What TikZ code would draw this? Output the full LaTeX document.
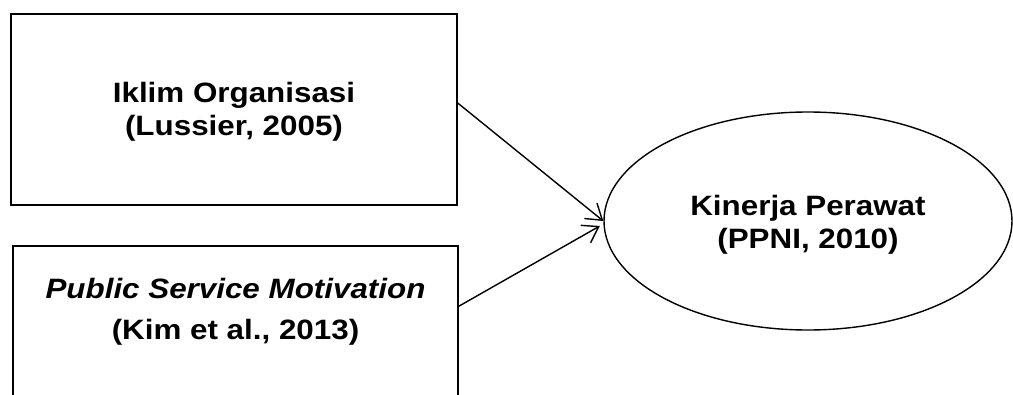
\documentclass[tikz,border=0pt]{standalone}
\usepackage{fontspec}
\setmainfont{Liberation Sans}[FakeStretch=1.12]
\usetikzlibrary{shapes.geometric,arrows.meta,calc}
\tikzset{
  framebox/.style={draw, line width=1.4pt, rectangle, inner sep=0pt},
  oval/.style={draw, line width=1.4pt, ellipse, inner sep=0pt,
    minimum width=408pt, minimum height=218pt},
  caption/.style={anchor=base, inner sep=0pt, font=\fontsize{28}{33}\selectfont\bfseries},
  arr/.style={line width=1.4pt, -{Straight Barb[length=15pt,width=20pt,line width=1.4pt]}}
}
\begin{document}
\begin{tikzpicture}[x=1pt,y=-1pt]
\useasboundingbox (0,0) rectangle (1013,394);
\clip (0,0) rectangle (1013,394);
% left-hand boxes
\node[framebox, minimum width=446pt, minimum height=191pt] (iklim) at (234,109.5) {};
\node[caption] (iklimtitle) at (234,102) {Iklim Organisasi};
\node[caption] (iklimcite) at (234,135) {(Lussier, 2005)};
\node[framebox, minimum width=445pt, minimum height=180pt] (psm) at (235.5,336) {};
\node[caption] (psmtitle) at (235.5,298) {\textit{Public Service Motivation}};
\node[caption] (psmcite) at (235.5,339) {(Kim et al., 2013)};
% outcome
\node[oval] (kinerja) at (808,221) {};
\node[caption] (kinerjatitle) at (808,215) {Kinerja Perawat};
\node[caption] (kinerjacite) at (808,248) {(PPNI, 2010)};
% paths
\draw[arr] ($(iklim.east)+(0,-6.5)$) -- (kinerja.west);
\draw[arr, shorten >=4pt] ($(psm.north east)+(0,61)$) -- ($(kinerja.west)+(0,3)$);
\end{tikzpicture}
\end{document}
